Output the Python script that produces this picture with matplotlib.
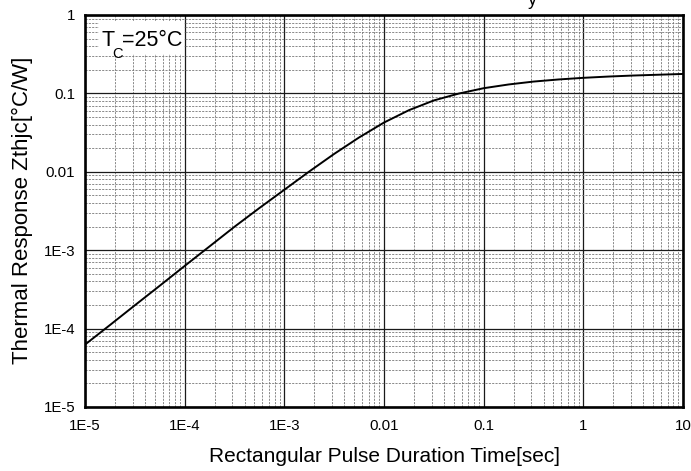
import matplotlib
matplotlib.use("Agg")
import matplotlib.pyplot as plt
from matplotlib.ticker import LogLocator, FixedLocator, NullFormatter
from matplotlib.patches import Rectangle

plt.rcParams['font.family'] = ['Liberation Sans', 'DejaVu Sans']

# Data
pulse_time = [1e-5, 1.78e-5, 3.16e-5, 5.62e-5, 1e-4, 1.78e-4, 3.16e-4, 5.62e-4,
              1e-3, 1.78e-3, 3.16e-3, 5.62e-3, 1e-2, 1.78e-2, 3.16e-2, 5.62e-2,
              0.1, 0.178, 0.316, 0.562, 1.0, 1.78, 3.16, 5.62, 10.0]
zth = [6.25e-5, 1.11e-4, 1.98e-4, 3.52e-4, 6.3e-4, 1.12e-3, 1.99e-3, 3.45e-3,
       5.9e-3, 0.0101, 0.0169, 0.0274, 0.0425, 0.0611, 0.0813, 0.0995,
       0.1165, 0.130, 0.1415, 0.1505, 0.158, 0.164, 0.169, 0.173, 0.177]

x_ticks = [1e-5, 1e-4, 1e-3, 1e-2, 1e-1, 1, 10]
x_ticklabels = ["1E-5", "1E-4", "1E-3", "0.01", "0.1", "1", "10"]
y_ticks = [1e-5, 1e-4, 1e-3, 1e-2, 1e-1, 1]
y_ticklabels = ["1E-5", "1E-4", "1E-3", "0.01", "0.1", "1"]

W, H = 691, 471
fig = plt.figure(figsize=(W/100, H/100), dpi=100)
L, R, T, B = 85, 683, 15, 407
ax = fig.add_axes([L/W, 1 - B/H, (R-L)/W, (B-T)/H])

ax.set_xscale('log')
ax.set_yscale('log')
ax.set_xlim(1e-5, 10)
ax.set_ylim(1e-5, 1)

ax.xaxis.set_major_locator(FixedLocator(x_ticks))
ax.set_xticklabels(x_ticklabels)
ax.yaxis.set_major_locator(FixedLocator(y_ticks))
ax.set_yticklabels(y_ticklabels)
ax.xaxis.set_minor_locator(LogLocator(base=10, subs=range(2, 10), numticks=50))
ax.yaxis.set_minor_locator(LogLocator(base=10, subs=range(2, 10), numticks=50))
ax.xaxis.set_minor_formatter(NullFormatter())
ax.yaxis.set_minor_formatter(NullFormatter())

ax.grid(which='major', color='#1a1a1a', linewidth=0.9, linestyle='-')
ax.grid(which='minor', color='#777777', linewidth=0.6, linestyle=(0, (2.5, 1.5)))
ax.set_axisbelow(True)

ax.tick_params(which='both', length=0, labelsize=10.8, colors='black')
ax.tick_params(axis='x', pad=9)
ax.tick_params(axis='y', pad=7)

for s in ax.spines.values():
    s.set_linewidth(1.9)
    s.set_color('black')

ax.plot(pulse_time, zth, color='black', linewidth=1.4, zorder=3,
        solid_joinstyle='round')

fig.text(384/W, 1 - 457/H, "Rectangular Pulse Duration Time[sec]",
         fontsize=15, ha='center', va='center')
fig.text(22/W, 1 - 210/H, "Thermal Response Zthjc[°C/W]",
         fontsize=16, ha='center', va='center', rotation=90)

# white background behind the case-temperature note
ax.add_patch(Rectangle((99/W, 1 - 54/H), (184-99)/W, (54-21)/H,
                       transform=fig.transFigure, facecolor='white',
                       edgecolor='none', zorder=2))
fig.text(101/W, 1 - 46/H, "T", fontsize=15.5, ha='left', va='baseline')
fig.text(112/W, 1 - 58/H, "C", fontsize=10.5, ha='left', va='baseline')
fig.text(122/W, 1 - 46/H, "=25°C", fontsize=15.5, ha='left', va='baseline')

# partially clipped title fragment at the very top
fig.text(532/W, 1 - 5/H, "y", fontsize=13, ha='center', va='baseline')

fig.savefig("out.png", dpi=100)
